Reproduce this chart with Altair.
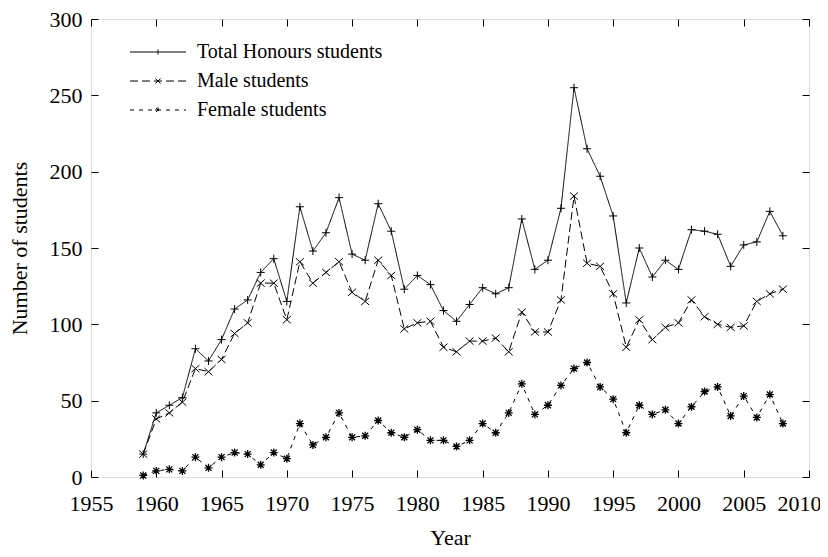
import altair as alt
import pandas as pd

years = list(range(1959, 2009))
total = [15, 42, 47, 52, 84, 76, 90, 110, 116, 134,
         143, 115, 177, 148, 160, 183, 146, 142, 179, 161,
         123, 132, 126, 109, 102, 113, 124, 120, 124, 169,
         136, 142, 176, 255, 215, 197, 171, 114, 150, 131,
         142, 136, 162, 161, 159, 138, 152, 154, 174, 158]
male = [15, 38, 42, 49, 71, 69, 77, 94, 101, 127,
        127, 103, 141, 127, 134, 141, 121, 115, 142, 132,
        97, 101, 102, 85, 82, 89, 89, 91, 82, 108,
        95, 95, 116, 184, 140, 138, 120, 85, 103, 90,
        98, 101, 116, 105, 100, 98, 99, 115, 120, 123]
female = [1, 4, 5, 4, 13, 6, 13, 16, 15, 8,
          16, 12, 35, 21, 26, 42, 26, 27, 37, 29,
          26, 31, 24, 24, 20, 24, 35, 29, 42, 61,
          41, 47, 60, 71, 75, 59, 51, 29, 47, 41,
          44, 35, 46, 56, 59, 40, 53, 39, 54, 35]
series_names = ["Total Honours students", "Male students", "Female students"]
x_ticks = list(range(1955, 2011, 5))
y_ticks = list(range(0, 301, 50))

rows = []
for name, vals in zip(series_names, [total, male, female]):
    for yr, v in zip(years, vals):
        rows.append({"year": yr, "value": v, "series": name})
df = pd.DataFrame(rows)

W, H = 718, 458
FONT = "Liberation Serif"

marker_paths = [
    "M-1,0L1,0M0,-1L0,1",
    "M-1,-0.9L1,0.9M-1,0.9L1,-0.9",
    "M-1,0L1,0M0,-1L0,1M-0.75,-0.75L0.75,0.75M-0.75,0.75L0.75,-0.75",
]
marker_widths = [1, 1, 1.3]
legend_paths = [
    "M-7,0L7,0M0,-0.65L0,0.65",
    "M-7,0L7,0M-0.65,-0.6L0.65,0.6M-0.65,0.6L0.65,-0.6",
    "M-7,0L7,0M-0.7,0L0.7,0M0,-0.7L0,0.7M-0.5,-0.5L0.5,0.5M-0.5,0.5L0.5,-0.5",
]
dashes = [[1, 0], [8, 4], [4, 5]]

xscale = alt.Scale(domain=[1955, 2010], nice=False, zero=False)
yscale = alt.Scale(domain=[0, 300], nice=False)

tick_common = dict(labels=False, domain=False, grid=False, ticks=True, tickSize=7,
                   tickColor="black", tickWidth=1, title=None)

axis_x_main = alt.Axis(orient="bottom", values=x_ticks, format="d", ticks=False, domain=False,
                       grid=False, labelFlush=False, labelOverlap=False, labelPadding=16,
                       labelOffset=alt.ExprRef(expr="datum.value == 2010 ? -10 : 0"),
                       labelFont=FONT, labelFontSize=22, labelColor="black",
                       title="Year", titleFont=FONT, titleFontSize=22, titleFontWeight="normal",
                       titleColor="black", titleY=67, titleBaseline="alphabetic")
axis_y_main = alt.Axis(orient="left", values=y_ticks, ticks=False, domain=False, grid=False,
                       labelPadding=9, labelFont=FONT, labelFontSize=22, labelColor="black",
                       title="Number of students", titleFont=FONT, titleFontSize=22,
                       titleFontWeight="normal", titleColor="black", titleX=-65, titleY=H / 2,
                       titleAngle=270, titleBaseline="alphabetic", titleAlign="center")
axis_x_bottom_in = alt.Axis(orient="top", offset=-H, values=x_ticks, **tick_common)
axis_y_left_in = alt.Axis(orient="right", offset=-W, values=y_ticks, **tick_common)
axis_x_top_in = alt.Axis(orient="bottom", offset=-H, values=x_ticks, **tick_common)
axis_y_right_in = alt.Axis(orient="left", offset=-W, values=y_ticks, **tick_common)

base = alt.Chart(df)
layers = []
for i, name in enumerate(series_names):
    xa = axis_x_main if i == 0 else None
    ya = axis_y_main if i == 0 else None
    layers.append(
        base.transform_filter(alt.datum.series == name)
        .mark_line(color="black", strokeWidth=1, strokeDash=dashes[i])
        .encode(x=alt.X("year:Q", scale=xscale, axis=xa),
                y=alt.Y("value:Q", scale=yscale, axis=ya),
                order="year:Q")
    )
for i, name in enumerate(series_names):
    xa = axis_x_bottom_in if i == 0 else None
    ya = axis_y_left_in if i == 0 else None
    layers.append(
        base.transform_filter(alt.datum.series == name)
        .mark_point(shape=marker_paths[i], size=64, filled=False, color="black",
                    strokeWidth=marker_widths[i], opacity=1)
        .encode(x=alt.X("year:Q", scale=xscale, axis=xa),
                y=alt.Y("value:Q", scale=yscale, axis=ya))
    )

leg = alt.Legend(title=None, orient="none", legendX=57, legendY=23, padding=0,
                 labelFont=FONT, labelFontSize=20, labelColor="black", labelLimit=500,
                 symbolSize=64, symbolStrokeWidth=1, symbolStrokeColor="black",
                 symbolFillColor="transparent", symbolOpacity=1, symbolOffset=0,
                 labelOffset=29, rowPadding=9)
layers.append(
    base.mark_point(filled=False, opacity=0, color="black")
    .encode(x=alt.X("year:Q", scale=xscale, axis=axis_x_top_in),
            y=alt.Y("value:Q", scale=yscale, axis=axis_y_right_in),
            shape=alt.Shape("series:N", scale=alt.Scale(domain=series_names, range=legend_paths),
                            legend=leg),
            strokeDash=alt.StrokeDash("series:N", scale=alt.Scale(domain=series_names, range=dashes),
                                      legend=leg))
)

chart = (
    alt.layer(*layers)
    .resolve_axis(x="independent", y="independent")
    .properties(width=W, height=H,
                padding={"left": 83, "top": 11, "right": 11, "bottom": 72},
                autosize=alt.AutoSizeParams(type="none"))
    .configure_view(stroke="black", strokeWidth=1)
    .configure(background="white")
)

chart.save("out.html", embed_options={"renderer": "svg", "actions": False})
